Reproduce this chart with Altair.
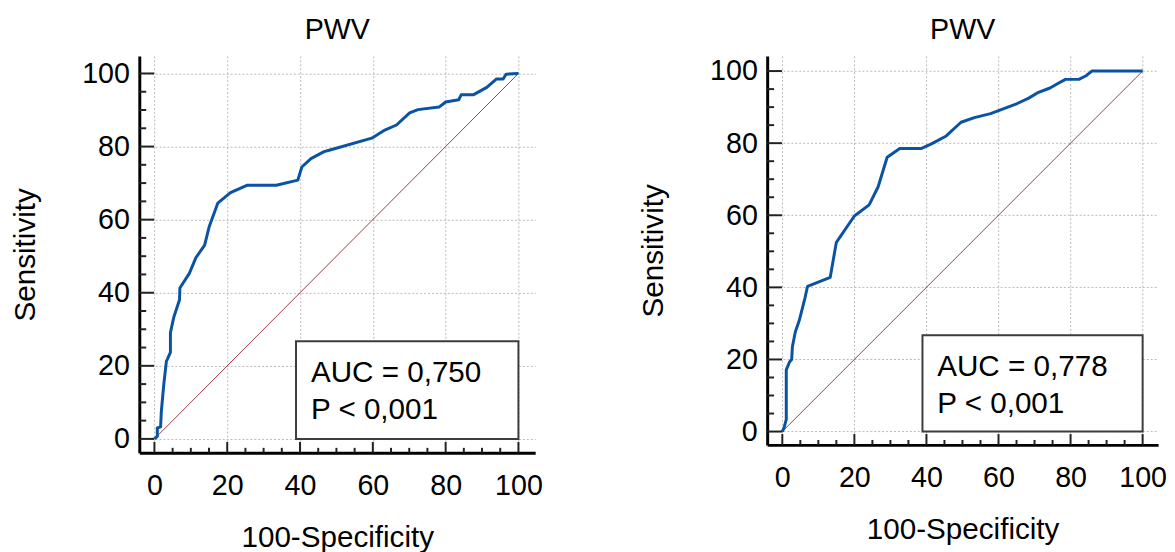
import altair as alt
import pandas as pd

FONT = "Liberation Sans"

# ---- data ----
left_fpr = [0, 0.8, 0.8, 1.7, 1.9, 2.6, 3.3, 3.6, 4.4, 4.4, 5.3, 6.9, 7.0, 9.6, 11.4, 13.8, 15.0, 17.4,
            20.9, 25.4, 33.5, 39.4, 40.5, 43.0, 46.6, 48.0, 59.7, 63.3, 66.5, 70.1, 72.4, 78.2, 80.0,
            83.6, 84.3, 87.7, 91.3, 94.0, 95.8, 96.6, 100]
left_tpr = [0, 0.7, 3.0, 3.3, 7.5, 15.1, 21.3, 21.9, 23.7, 29.1, 33.2, 38.1, 41.3, 45.3, 49.6, 53.0, 57.9, 64.5,
            67.4, 69.4, 69.4, 70.8, 74.4, 76.7, 78.6, 79.0, 82.3, 84.5, 85.9, 89.2, 90.1, 90.8, 92.2,
            92.8, 94.2, 94.2, 96.2, 98.5, 98.5, 99.8, 100]

right_fpr = [0, 0.5, 1.1, 1.1, 2.0, 2.6, 2.8, 3.6, 4.7, 6.3, 7.0, 13.3, 15.0, 20.0, 24.1, 26.6, 29.1, 32.6,
             38.5, 41.4, 45.5, 49.6, 53.3, 57.8, 61.5, 65.2, 68.4, 71.1, 74.3, 76.6, 78.6, 82.3, 84.3,
             85.9, 100]
right_tpr = [0, 1.1, 3.4, 17.1, 19.3, 20.0, 23.5, 27.6, 30.8, 37.1, 40.3, 42.8, 52.5, 59.8, 62.9, 67.9, 76.1,
             78.5, 78.5, 79.8, 82.0, 85.8, 87.1, 88.2, 89.6, 91.0, 92.5, 94.1, 95.3, 96.6, 97.7, 97.7,
             98.7, 100, 100]

panel_titles = ["PWV", "PWV"]
auc_labels = ["AUC = 0,750", "AUC = 0,778"]
p_labels = ["P < 0,001", "P < 0,001"]
x_title = "100-Specificity"
y_title = "Sensitivity"

major_ticks = [0, 20, 40, 60, 80, 100]
minor_ticks = [5, 10, 15, 25, 30, 35, 45, 50, 55, 65, 70, 75, 85, 90, 95]
diag_vals = [0, 100]

CURVE = "#0A52A3"
DIAG = "#9E3A46"


def panel(fpr, tpr, title, auc, ptxt, xdom, ydom, w, h):
    roc = pd.DataFrame({"x": fpr, "y": tpr, "o": list(range(len(fpr)))})
    diag = pd.DataFrame({"x": diag_vals, "y": diag_vals})
    maj = pd.DataFrame({"v": major_ticks})
    mnr = pd.DataFrame({"v": minor_ticks})
    one = pd.DataFrame({"a": [0]})

    xs = alt.Scale(domain=xdom, nice=False, zero=False)
    ys = alt.Scale(domain=ydom, nice=False, zero=False)
    xax = alt.Axis(values=major_ticks, title=x_title, grid=True, ticks=False, tickSize=0,
                   labelPadding=19, titlePadding=23, labelFlush=False, labelOverlap=False)
    yax = alt.Axis(values=major_ticks, title=y_title, grid=True, ticks=False, tickSize=0,
                   labelPadding=10, titlePadding=42, labelFlush=False, labelOverlap=False)

    base_axes = alt.Chart(roc).mark_line(opacity=0).encode(
        x=alt.X("x:Q", scale=xs, axis=xax),
        y=alt.Y("y:Q", scale=ys, axis=yax),
    )

    diag_line = alt.Chart(diag).mark_line(color=DIAG, strokeWidth=1).encode(
        x=alt.X("x:Q", scale=xs), y=alt.Y("y:Q", scale=ys))

    curve = alt.Chart(roc).mark_line(color=CURVE, strokeWidth=3, strokeJoin="round").encode(
        x=alt.X("x:Q", scale=xs), y=alt.Y("y:Q", scale=ys), order="o:Q")

    box = alt.Chart(one).mark_rect(fill="white", stroke="#3c3c3c", strokeWidth=2).encode(
        x=alt.datum(38.9, scale=xs), x2=alt.datum(100),
        y=alt.datum(0, scale=ys), y2=alt.datum(26.7))

    txt = alt.Chart(one).mark_text(align="left", baseline="alphabetic", font=FONT, fontSize=30,
                                   lineHeight=37.6, color="black").encode(
        x=alt.datum(43.0, scale=xs), y=alt.datum(15.5, scale=ys),
        text=alt.value([auc, ptxt]))

    ytick_maj = alt.Chart(maj).mark_rule(color="#222", strokeWidth=2).encode(
        y=alt.Y("v:Q", scale=ys), x=alt.value(0), x2=alt.value(15))
    ytick_min = alt.Chart(mnr).mark_rule(color="#222", strokeWidth=2).encode(
        y=alt.Y("v:Q", scale=ys), x=alt.value(0), x2=alt.value(7))
    xtick_maj = alt.Chart(maj).mark_rule(color="#222", strokeWidth=2).encode(
        x=alt.X("v:Q", scale=xs), y=alt.value(h), y2=alt.value(h - 11))
    xtick_min = alt.Chart(mnr).mark_rule(color="#222", strokeWidth=2).encode(
        x=alt.X("v:Q", scale=xs), y=alt.value(h), y2=alt.value(h - 5))

    return alt.layer(base_axes, diag_line, box, txt, curve,
                     ytick_maj, ytick_min, xtick_maj, xtick_min).properties(
        width=w, height=h,
        title=alt.TitleParams(title, fontSize=29, font=FONT, fontWeight="normal",
                              color="black", offset=11.5, anchor="middle"))


left = panel(left_fpr, left_tpr, panel_titles[0], auc_labels[0], p_labels[0],
             [-4.15, 104.6], [-3.8, 104.8], 401, 402)
right = panel(right_fpr, right_tpr, panel_titles[1], auc_labels[1], p_labels[1],
              [-4.2, 104.3], [-3.7, 104.2], 396, 394)

chart = alt.hconcat(left, right, spacing=96).configure(
    padding={"left": 2, "top": 4, "right": 0, "bottom": 0}
).configure_view(stroke=None).configure_axis(
    domainColor="black", domainWidth=3,
    gridColor="#b8b8b8", gridDash=[2, 2], gridWidth=1,
    labelFont=FONT, labelFontSize=29, labelColor="black",
    titleFont=FONT, titleFontSize=30, titleFontWeight="normal", titleColor="black",
)

chart.save("out.html", embed_options={"renderer": "svg", "actions": False})
